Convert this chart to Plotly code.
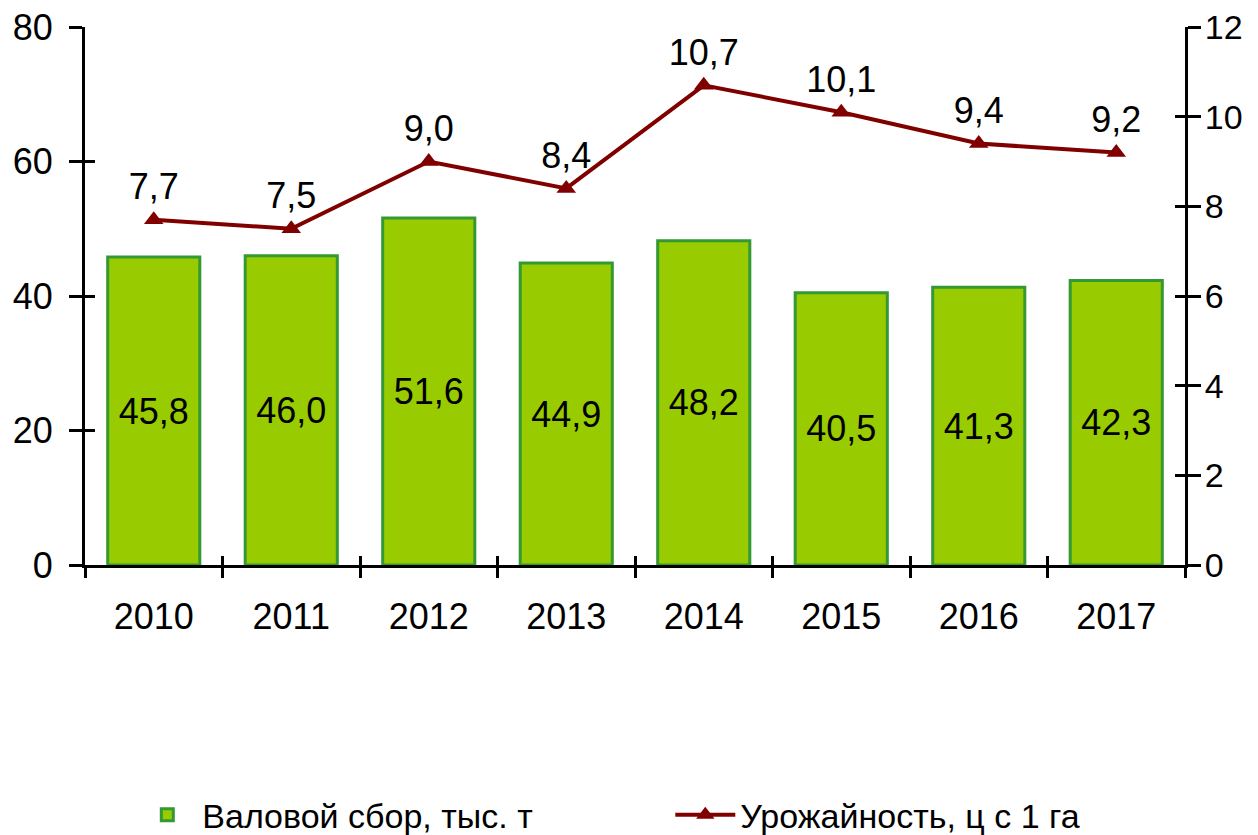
import plotly.graph_objects as go

years = ["2010", "2011", "2012", "2013", "2014", "2015", "2016", "2017"]
gross_harvest = [45.8, 46.0, 51.6, 44.9, 48.2, 40.5, 41.3, 42.3]
yield_per_ha = [7.7, 7.5, 9.0, 8.4, 10.7, 10.1, 9.4, 9.2]
name_bar = "Валовой сбор, тыс. т"
name_line = "Урожайность, ц с 1 га"

FONT = "Arial, Liberation Sans, sans-serif"
FS = 36
n = len(years)
idx = list(range(n))
boundaries = [i - 0.5 for i in range(n + 1)]

fig = go.Figure()
fig.add_trace(go.Bar(
    x=idx, y=gross_harvest, name=name_bar,
    marker=dict(color="#99CC00", line=dict(color="#339933", width=3)),
    width=0.67,
    text=[f"{v:.1f}".replace(".", ",") for v in gross_harvest],
    textposition="inside", insidetextanchor="middle",
    textfont=dict(color="black", size=FS, family=FONT),
))
fig.add_trace(go.Scatter(
    x=idx, y=yield_per_ha, name=name_line, yaxis="y2",
    mode="lines+markers+text",
    line=dict(color="#800000", width=4),
    marker=dict(symbol="triangle-up", size=17, color="#800000"),
    text=[f"{v:.1f}".replace(".", ",") for v in yield_per_ha],
    textposition="top center",
    textfont=dict(color="black", size=FS, family=FONT),
))

axis_common = dict(showgrid=False, zeroline=False, linecolor="black", linewidth=3,
                   tickcolor="black", tickwidth=3, ticklabeloverflow="allow",
                   tickfont=dict(size=FS, color="black", family=FONT))

fig.update_layout(
    width=1250, height=827,
    margin=dict(l=77, r=73, t=19, b=270, autoexpand=False),
    plot_bgcolor="white", paper_bgcolor="white",
    font=dict(family=FONT, size=FS, color="black"),
    showlegend=True,
    legend=dict(orientation="h", x=0.043, xanchor="left", y=-0.465, yanchor="middle",
                entrywidth=463, entrywidthmode="pixels",
                font=dict(size=34, family=FONT), itemwidth=60,
                bgcolor="rgba(0,0,0,0)"),
    xaxis=dict(**axis_common, range=[-0.5, n - 0.5], tickmode="array",
               tickvals=idx, ticktext=years, ticks="", ticklabelstandoff=18),
    xaxis3=dict(overlaying="x", range=[-0.5, n - 0.5], tickmode="array",
                tickvals=boundaries, ticks="outside", ticklen=12, tickwidth=3,
                tickcolor="black", showticklabels=False, showline=False,
                showgrid=False, zeroline=False, anchor="y"),
    xaxis4=dict(overlaying="x", range=[-0.5, n - 0.5], tickmode="array",
                tickvals=boundaries, ticks="inside", ticklen=9, tickwidth=3,
                tickcolor="black", showticklabels=False, showline=False,
                showgrid=False, zeroline=False, anchor="y"),
    yaxis=dict(**axis_common, range=[0, 80], dtick=20, ticks="outside", ticklen=13,
               ticklabelstandoff=9),
    yaxis2=dict(showgrid=False, zeroline=False, linecolor="black", linewidth=3,
                tickcolor="black", tickwidth=3, ticklabeloverflow="allow",
                tickfont=dict(size=34, color="black", family=FONT),
                range=[0, 12], dtick=2, overlaying="y", side="right",
                ticks="outside", ticklen=13, ticklabelstandoff=-3),
    yaxis3=dict(overlaying="y", range=[0, 80], dtick=20, ticks="inside", ticklen=10,
                tickwidth=3, tickcolor="black", showticklabels=False, showline=False,
                showgrid=False, zeroline=False, side="left"),
    yaxis4=dict(overlaying="y", range=[0, 12], dtick=2, ticks="inside", ticklen=10,
                tickwidth=3, tickcolor="black", showticklabels=False, showline=False,
                showgrid=False, zeroline=False, side="right"),
    separators=", ",
)
fig.add_trace(go.Scatter(x=[0], y=[0], xaxis="x3", yaxis="y3", mode="markers",
                         marker=dict(opacity=0), showlegend=False, hoverinfo="skip"))
fig.add_trace(go.Scatter(x=[0], y=[0], xaxis="x4", yaxis="y4", mode="markers",
                         marker=dict(opacity=0), showlegend=False, hoverinfo="skip"))

fig.write_html("out.html")
